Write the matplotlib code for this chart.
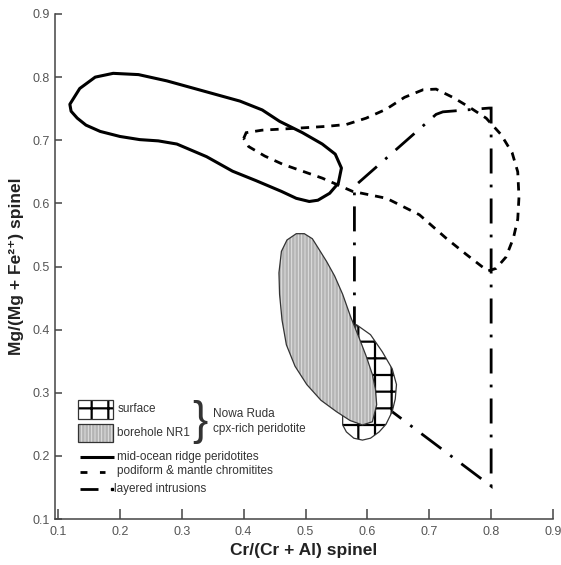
import matplotlib
matplotlib.use("Agg")
import matplotlib.pyplot as plt
from matplotlib.patches import Polygon, Rectangle

plt.rcParams["font.family"] = ["Liberation Sans", "DejaVu Sans"]

# mid-ocean ridge peridotites (solid outline)
mor_x = [0.119, 0.135, 0.160, 0.189, 0.230, 0.276, 0.335, 0.394, 0.430, 0.458, 0.495,
         0.527, 0.548, 0.558, 0.553, 0.539, 0.520, 0.506, 0.485, 0.461, 0.420, 0.382,
         0.340, 0.292, 0.262, 0.232, 0.200, 0.168, 0.145, 0.131, 0.121]
mor_y = [0.757, 0.782, 0.800, 0.806, 0.804, 0.794, 0.778, 0.762, 0.748, 0.730, 0.712,
         0.694, 0.678, 0.656, 0.632, 0.616, 0.605, 0.603, 0.608, 0.619, 0.636, 0.651,
         0.674, 0.694, 0.699, 0.701, 0.706, 0.714, 0.724, 0.735, 0.746]

# podiform & mantle chromitites (dashed outline)
pod_x = [0.400, 0.404, 0.430, 0.485, 0.534, 0.566, 0.598, 0.630, 0.660, 0.690, 0.711,
         0.740, 0.767, 0.792, 0.816, 0.834, 0.843, 0.845, 0.843, 0.836, 0.824, 0.808,
         0.795, 0.785, 0.760, 0.727, 0.684, 0.631, 0.576, 0.527, 0.463, 0.434, 0.408]
pod_y = [0.703, 0.712, 0.716, 0.719, 0.722, 0.725, 0.735, 0.749, 0.768, 0.780, 0.781,
         0.767, 0.751, 0.735, 0.709, 0.680, 0.650, 0.610, 0.575, 0.545, 0.515, 0.497,
         0.493, 0.500, 0.519, 0.545, 0.582, 0.608, 0.619, 0.640, 0.662, 0.675, 0.690]

# layered intrusions (dash-dot outline)
lay_x = [0.579, 0.579, 0.711, 0.722, 0.797, 0.800, 0.800, 0.640]
lay_y = [0.318, 0.627, 0.741, 0.745, 0.751, 0.751, 0.152, 0.270]

# Nowa Ruda borehole NR1
bh_x = [0.485, 0.470, 0.461, 0.457, 0.458, 0.462, 0.469, 0.483, 0.502, 0.525, 0.550,
        0.572, 0.592, 0.608, 0.615, 0.613, 0.608, 0.598, 0.587, 0.573, 0.560, 0.547,
        0.534, 0.520, 0.511, 0.498]
bh_y = [0.552, 0.542, 0.524, 0.490, 0.456, 0.415, 0.376, 0.342, 0.313, 0.288, 0.270,
        0.256, 0.249, 0.254, 0.281, 0.305, 0.329, 0.358, 0.386, 0.420, 0.456, 0.485,
        0.508, 0.530, 0.544, 0.552]

# Nowa Ruda surface
sf_x = [0.582, 0.605, 0.624, 0.640, 0.647, 0.645, 0.640, 0.630, 0.619, 0.605, 0.592,
        0.578, 0.566, 0.560, 0.560, 0.566, 0.572, 0.577]
sf_y = [0.408, 0.392, 0.365, 0.338, 0.313, 0.290, 0.270, 0.250, 0.238, 0.228, 0.225,
        0.228, 0.238, 0.249, 0.270, 0.300, 0.340, 0.380]

ticks = [0.1, 0.2, 0.3, 0.4, 0.5, 0.6, 0.7, 0.8, 0.9]

DASHED = (0, (3, 2.5))
DASHDOT = (0, (9, 4, 1, 4))
BH_FACE = "#b4b4b4"
BH_HATCH = "#e6e6e6"


def hatched(xy, face, hcolor, hatch, hlw, z):
    with plt.rc_context({"hatch.linewidth": hlw}):
        p = Polygon(xy, closed=True, facecolor=face, edgecolor=hcolor, hatch=hatch,
                    linewidth=0, zorder=z)
    try:
        p.set_hatch_linewidth(hlw)
    except AttributeError:
        pass
    return p


def hatched_rect(xy, w, h, face, hcolor, hatch, hlw, z):
    with plt.rc_context({"hatch.linewidth": hlw}):
        p = Rectangle(xy, w, h, facecolor=face, edgecolor=hcolor, hatch=hatch,
                      linewidth=0, zorder=z)
    try:
        p.set_hatch_linewidth(hlw)
    except AttributeError:
        pass
    return p


fig = plt.figure(figsize=(5.61, 5.65), dpi=100)
ax = fig.add_axes([55 / 561, 46 / 565, 498 / 561, 505 / 565])

# layered intrusions under the Nowa Ruda fields
ax.add_patch(Polygon(list(zip(lay_x, lay_y)), closed=True, fill=False, edgecolor="black",
                     linewidth=2, linestyle=DASHDOT, zorder=2))

# surface field
sf = list(zip(sf_x, sf_y))
ax.add_patch(hatched(sf, "white", "black", "+", 1.6, 3))
ax.add_patch(Polygon(sf, closed=True, fill=False, edgecolor="#333333", linewidth=0.9, zorder=3.1))

# borehole field
bh = list(zip(bh_x, bh_y))
ax.add_patch(hatched(bh, BH_FACE, BH_HATCH, "|||||", 0.6, 4))
ax.add_patch(Polygon(bh, closed=True, fill=False, edgecolor="#333333", linewidth=0.9, zorder=4.1))

# mantle fields
ax.add_patch(Polygon(list(zip(mor_x, mor_y)), closed=True, fill=False, edgecolor="black",
                     linewidth=2.2, joinstyle="round", zorder=5))
ax.add_patch(Polygon(list(zip(pod_x, pod_y)), closed=True, fill=False, edgecolor="black",
                     linewidth=2, linestyle=DASHED, zorder=5))

# legend (drawn by hand, as in the original figure)
lfs = 8.5
ax.add_patch(hatched_rect((0.132, 0.259), 0.057, 0.030, "white", "black", "+", 1.6, 6))
ax.add_patch(Rectangle((0.132, 0.259), 0.057, 0.030, fill=False, edgecolor="#333333",
                       linewidth=0.9, zorder=6.1))
ax.add_patch(hatched_rect((0.132, 0.222), 0.057, 0.029, BH_FACE, BH_HATCH, "|||||", 0.6, 6))
ax.add_patch(Rectangle((0.132, 0.222), 0.057, 0.029, fill=False, edgecolor="#333333",
                       linewidth=0.9, zorder=6.1))
ax.text(0.197, 0.274, "surface", fontsize=lfs, color="#333333", va="center")
ax.text(0.195, 0.236, "borehole NR1", fontsize=lfs, color="#333333", va="center")
ax.text(0.317, 0.254, "}", fontsize=33, color="#333333", va="center", ha="left",
        fontweight="light")
ax.text(0.350, 0.266, "Nowa Ruda", fontsize=lfs, color="#333333", va="center")
ax.text(0.350, 0.243, "cpx-rich peridotite", fontsize=lfs, color="#333333", va="center")

ax.plot([0.135, 0.190], [0.198, 0.198], color="black", linewidth=2.2, solid_capstyle="butt")
ax.text(0.195, 0.198, "mid-ocean ridge peridotites", fontsize=lfs, color="#333333", va="center")
ax.plot([0.135, 0.176], [0.175, 0.175], color="black", linewidth=2,
        linestyle=(0, (2.5, 4.5)))
ax.text(0.195, 0.176, "podiform & mantle chromitites", fontsize=lfs, color="#333333", va="center")
ax.plot([0.135, 0.165], [0.148, 0.148], color="black", linewidth=2, solid_capstyle="butt")
ax.plot([0.187], [0.148], "s", color="black", markersize=2)
ax.text(0.190, 0.148, "layered intrusions", fontsize=lfs, color="#333333", va="center")

ax.set_xlim(0.095, 0.9)
ax.set_ylim(0.1, 0.9)
ax.set_xticks(ticks)
ax.set_yticks(ticks)
ax.set_xticklabels([f"{t:.1f}" for t in ticks])
ax.set_yticklabels([f"{t:.1f}" for t in ticks])
ax.spines["top"].set_visible(False)
ax.spines["right"].set_visible(False)
for s in ("left", "bottom"):
    ax.spines[s].set_color("#444444")
    ax.spines[s].set_linewidth(1.1)
ax.tick_params(axis="x", direction="in", length=7, width=1.1, color="#444444",
               labelsize=9, labelcolor="#555555", pad=5)
ax.tick_params(axis="y", direction="in", length=5, width=1.1, color="#444444",
               labelsize=9, labelcolor="#555555", pad=4)

ax.set_xlabel("Cr/(Cr + Al) spinel", fontsize=12.5, fontweight="bold", color="#222222",
              labelpad=4)
ax.set_ylabel("Mg/(Mg + Fe²⁺) spinel", fontsize=12.5, fontweight="bold", color="#222222",
              labelpad=6)

fig.savefig("out.png", dpi=100)
